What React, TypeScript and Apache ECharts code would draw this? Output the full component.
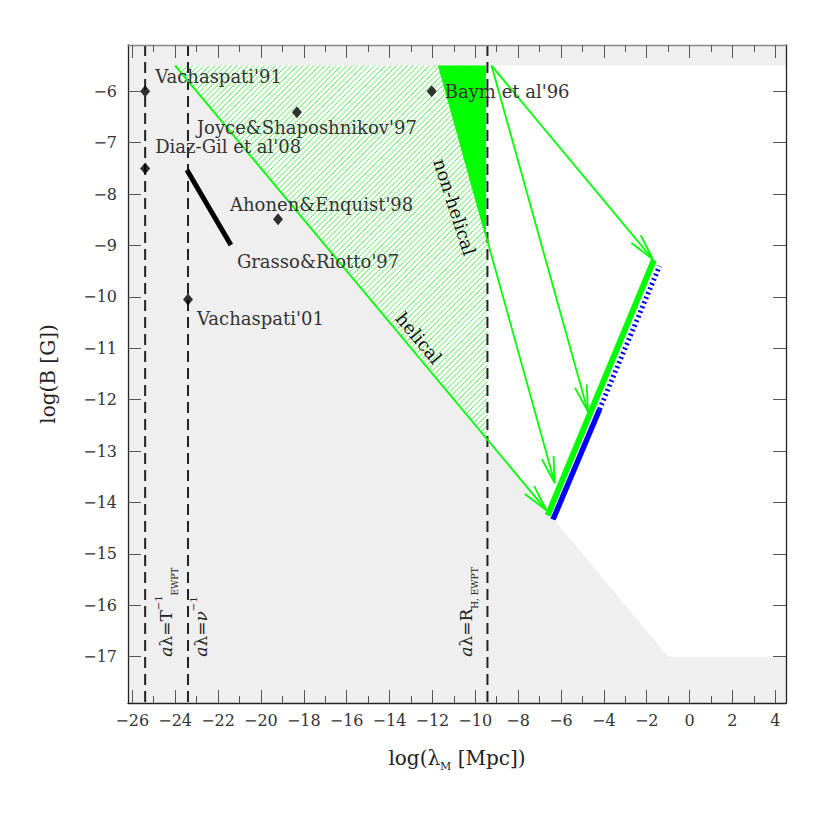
import React, { useEffect, useRef } from 'react';
import * as echarts from 'echarts';

// ---------- axes ----------
const X_MIN = -26.2;
const X_MAX = 4.5;
const Y_MIN = -17.9;
const Y_MAX = -5.1;
const xMajorTicks = [-26, -24, -22, -20, -18, -16, -14, -12, -10, -8, -6, -4, -2, 0, 2, 4];
const xMinorTicks = [-25, -23, -21, -19, -17, -15, -13, -11, -9, -7, -5, -3, -1, 1, 3];
const yTicks = [-6, -7, -8, -9, -10, -11, -12, -13, -14, -15, -16, -17];

// ---------- regions (log lambda, log B) ----------
const excludedRegion = [[-26.2, -5.1], [4.5, -5.1], [4.5, -5.5], [-24, -5.5], [-1, -17], [4.5, -17], [4.5, -17.9], [-26.2, -17.9]];
const helicalRegion = [[-24, -5.5], [-9.43, -5.5], [-9.43, -12.785]];
const nonHelicalRegion = [[-11.7, -5.5], [-9.5, -5.5], [-9.5, -8.8]];

// ---------- epoch lines ----------
const epochX = [-25.4, -23.4, -9.43];
const epochText = [
  '{i|a}{m|λ=T}{sup|−1}{sub|EWPT}',
  '{i|a}{m|λ=}{i|ν}{sup|−1}',
  '{i|a}{m|λ=R}{sub|H, EWPT}',
];

// ---------- evolution arrows ----------
const arrowStartX = [-24, -11.7, -9.24, -9.24];
const arrowStartY = [-5.5, -5.5, -5.5, -5.5];
const arrowEndX = [-6.68, -6.29, -1.71, -4.74];
const arrowEndY = [-14.15, -13.62, -9.27, -12.23];

// ---------- thick segments ----------
const greenToday = [-6.62, -14.25, -1.66, -9.28];
const blueSolid = [-6.37, -14.33, -4.2, -12.19];
const blueDotted = [-4.2, -12.19, -1.4, -9.4];
const grassoRiotto = [-23.45, -7.53, -21.4, -8.99];

// ---------- literature points ----------
const pointNames = ["Vachaspati'91", "Joyce&Shaposhnikov'97", "Baym et al'96", "Diaz-Gil et al'08", "Ahonen&Enquist'98", "Vachaspati'01"];
const pointX = [-25.4, -18.32, -12.03, -25.4, -19.2, -23.4];
const pointY = [-6, -6.41, -6, -7.5, -8.49, -10.05];

// ---------- region labels ----------
const regionLabels = ['helical', 'non-helical'];
const regionLabelX = [-12.63, -10.96];
const regionLabelY = [-10.8, -8.25];

// ---------- styles ----------
const FONT = '"DejaVu Serif", serif';
const GREEN = '#00ff00';
const BLUE = '#0000ff';
const LABEL_SIZE = 18;
const pointLabelOffsets = [[10, -15], [-100, 15], [13, 0], [10, -22], [-48, -15], [9, 19]];
const grassoLabelOffset = [6, 17];
const epochLabelOffsets = [[21, 0], [13, 0], [-21, 0]];
const regionLabelRot = [-50, -72];

const minusFmt = (v: number) => (v < 0 ? '−' + Math.abs(v) : String(v));

function hatchLines(pts: number[][], step: number) {
  const sums = pts.map((p) => p[0] + p[1]);
  const cMin = Math.min(...sums);
  const cMax = Math.max(...sums);
  const out: number[][][] = [];
  for (let c = Math.ceil(cMin / step) * step; c <= cMax; c += step) {
    const hits: number[][] = [];
    for (let i = 0; i < pts.length; i++) {
      const P = pts[i];
      const Q = pts[(i + 1) % pts.length];
      const fp = P[0] + P[1] - c;
      const fq = Q[0] + Q[1] - c;
      if ((fp <= 0 && fq > 0) || (fp > 0 && fq <= 0)) {
        const t = fp / (fp - fq);
        hits.push([P[0] + t * (Q[0] - P[0]), P[1] + t * (Q[1] - P[1])]);
      }
    }
    if (hits.length >= 2) {
      hits.sort((a, b) => a[0] - b[0]);
      out.push([hits[0], hits[hits.length - 1]]);
    }
  }
  return out;
}

function polygonSeries(points: number[][], style: any, z: number, hatch?: any) {
  return {
    type: 'custom',
    coordinateSystem: 'cartesian2d',
    silent: true,
    z,
    clip: true,
    data: [points[0]],
    renderItem: (_p: any, api: any) => {
      const pts = points.map((p) => api.coord(p));
      const children: any[] = [];
      if (style) children.push({ type: 'polygon', shape: { points: pts }, style });
      if (hatch) {
        hatchLines(pts, hatch.step).forEach((seg) => {
          children.push({
            type: 'line',
            shape: { x1: seg[0][0], y1: seg[0][1], x2: seg[1][0], y2: seg[1][1] },
            style: { stroke: hatch.color, lineWidth: hatch.width },
          });
        });
      }
      return { type: 'group', children };
    },
  };
}

function buildOption() {
  const xBase = { type: 'value', min: X_MIN, max: X_MAX, splitLine: { show: false }, z: 20 };
  const yBase = { type: 'value', min: Y_MIN, max: Y_MAX, splitLine: { show: false }, z: 20 };
  const tickStyle = { color: '#555', width: 1 };

  const segData = [greenToday, blueSolid, blueDotted, grassoRiotto];
  const segStyles = [
    { stroke: GREEN, lineWidth: 6 },
    { stroke: BLUE, lineWidth: 5.5 },
    { stroke: BLUE, lineWidth: 5, lineDash: [2, 3] },
    { stroke: '#000', lineWidth: 5 },
  ];

  const arrowData = arrowStartX.map((x, i) => [x, arrowStartY[i], arrowEndX[i], arrowEndY[i]]);

  const textRich = {
    i: { fontSize: 17, fontFamily: FONT, fontStyle: 'italic', lineHeight: 26, color: '#222' },
    m: { fontSize: 17, fontFamily: FONT, lineHeight: 26, color: '#222' },
    sup: { fontSize: 10, fontFamily: FONT, verticalAlign: 'top', lineHeight: 26, color: '#222' },
    sub: { fontSize: 9, fontFamily: FONT, verticalAlign: 'bottom', lineHeight: 22, color: '#222' },
  };

  return {
    animation: false,
    backgroundColor: '#fff',
    grid: { left: 128, right: 44, top: 45, bottom: 127, containLabel: false },
    xAxis: [
      {
        ...xBase,
        position: 'bottom',
        axisLine: { show: true, onZero: false, lineStyle: { color: '#222', width: 1.3 } },
        axisTick: { show: true, inside: true, length: 13, customValues: xMajorTicks, lineStyle: tickStyle },
        axisLabel: { show: true, customValues: xMajorTicks, formatter: minusFmt, margin: 9, fontFamily: FONT, fontSize: 16, color: '#333' },
        name: '{a|log(λ}{s|M}{a| [Mpc])}',
        nameLocation: 'middle',
        nameGap: 41,
        nameTextStyle: {
          rich: {
            a: { fontSize: 20, fontFamily: FONT, color: '#222', lineHeight: 28 },
            s: { fontSize: 11, fontFamily: FONT, color: '#222', verticalAlign: 'bottom', lineHeight: 22 },
          },
        },
      },
      {
        ...xBase,
        position: 'bottom',
        axisLine: { show: false, onZero: false },
        axisTick: { show: true, inside: true, length: 7, customValues: xMinorTicks, lineStyle: tickStyle },
        axisLabel: { show: false, customValues: xMinorTicks },
      },
      {
        ...xBase,
        position: 'top',
        axisLine: { show: true, onZero: false, lineStyle: { color: '#888', width: 1.3 } },
        axisTick: { show: true, inside: true, length: 13, customValues: xMajorTicks, lineStyle: tickStyle },
        axisLabel: { show: false, customValues: xMajorTicks },
      },
      {
        ...xBase,
        position: 'top',
        axisLine: { show: false, onZero: false },
        axisTick: { show: true, inside: true, length: 7, customValues: xMinorTicks, lineStyle: tickStyle },
        axisLabel: { show: false, customValues: xMinorTicks },
      },
    ],
    yAxis: [
      {
        ...yBase,
        position: 'left',
        axisLine: { show: true, onZero: false, lineStyle: { color: '#222', width: 1.3 } },
        axisTick: { show: true, inside: true, length: 13, customValues: yTicks, lineStyle: tickStyle },
        axisLabel: { show: true, customValues: yTicks, formatter: minusFmt, margin: 11, fontFamily: FONT, fontSize: 16, color: '#333' },
        name: 'log(B [G])',
        nameLocation: 'middle',
        nameGap: 70,
        nameTextStyle: { fontSize: 20, fontFamily: FONT, color: '#222' },
      },
      {
        ...yBase,
        position: 'right',
        axisLine: { show: true, onZero: false, lineStyle: { color: '#222', width: 1.3 } },
        axisTick: { show: true, inside: true, length: 13, customValues: yTicks, lineStyle: tickStyle },
        axisLabel: { show: false, customValues: yTicks },
      },
    ],
    series: [
      polygonSeries(excludedRegion, { fill: '#efefef' }, 1),
      polygonSeries(helicalRegion, { fill: '#ffffff' }, 2, { step: 5.5, color: '#33ee33', width: 0.8 }),
      polygonSeries(nonHelicalRegion, { fill: GREEN }, 3),
      {
        type: 'custom',
        coordinateSystem: 'cartesian2d',
        silent: true,
        z: 4,
        data: epochX.map((x) => [x, Y_MIN]),
        renderItem: (params: any, api: any) => {
          const x = api.value(0);
          const top = api.coord([x, Y_MAX]);
          const bot = api.coord([x, Y_MIN]);
          const i = params.dataIndex;
          const off = epochLabelOffsets[i];
          const lab = api.coord([x, -17]);
          return {
            type: 'group',
            children: [
              {
                type: 'line',
                shape: { x1: top[0], y1: top[1], x2: bot[0], y2: bot[1] },
                style: { stroke: '#222', lineWidth: 2, lineDash: [11, 6] },
              },
              {
                type: 'text',
                x: lab[0] + off[0],
                y: lab[1] + off[1],
                rotation: Math.PI / 2,
                style: { text: epochText[i], align: 'left', verticalAlign: 'middle', rich: textRich, fill: '#222' },
              },
            ],
          };
        },
      },
      {
        type: 'custom',
        coordinateSystem: 'cartesian2d',
        silent: true,
        z: 5,
        data: arrowData,
        encode: { x: [0, 2], y: [1, 3] },
        renderItem: (_params: any, api: any) => {
          const s = api.coord([api.value(0), api.value(1)]);
          const e = api.coord([api.value(2), api.value(3)]);
          const dx = s[0] - e[0];
          const dy = s[1] - e[1];
          const len = Math.hypot(dx, dy);
          const ux = dx / len;
          const uy = dy / len;
          const L = 27;
          const th = (13 * Math.PI) / 180;
          const rot = (a: number) => [e[0] + L * (ux * Math.cos(a) - uy * Math.sin(a)), e[1] + L * (ux * Math.sin(a) + uy * Math.cos(a))];
          const a1 = rot(th);
          const a2 = rot(-th);
          return {
            type: 'group',
            children: [
              { type: 'line', shape: { x1: s[0], y1: s[1], x2: e[0], y2: e[1] }, style: { stroke: GREEN, lineWidth: 1.8 } },
              { type: 'polyline', shape: { points: [a1, e, a2] }, style: { stroke: GREEN, lineWidth: 1.8, fill: 'none' } },
            ],
          };
        },
      },
      {
        type: 'custom',
        coordinateSystem: 'cartesian2d',
        silent: true,
        z: 6,
        data: segData,
        encode: { x: [0, 2], y: [1, 3] },
        renderItem: (params: any, api: any) => {
          const s = api.coord([api.value(0), api.value(1)]);
          const e = api.coord([api.value(2), api.value(3)]);
          return { type: 'line', shape: { x1: s[0], y1: s[1], x2: e[0], y2: e[1] }, style: segStyles[params.dataIndex] };
        },
      },
      {
        type: 'scatter',
        z: 7,
        silent: true,
        symbol: 'diamond',
        symbolSize: [10, 12],
        itemStyle: { color: '#000' },
        data: pointX.map((x, i) => [x, pointY[i]]),
      },
      {
        type: 'custom',
        coordinateSystem: 'cartesian2d',
        silent: true,
        z: 8,
        data: pointX.map((x, i) => [x, pointY[i]]),
        renderItem: (params: any, api: any) => {
          const i = params.dataIndex;
          const p = api.coord([api.value(0), api.value(1)]);
          const off = pointLabelOffsets[i];
          return {
            type: 'text',
            x: p[0] + off[0],
            y: p[1] + off[1],
            style: { text: pointNames[i], fill: '#333', fontSize: LABEL_SIZE, fontFamily: FONT, align: 'left', verticalAlign: 'middle' },
          };
        },
      },
      {
        type: 'custom',
        coordinateSystem: 'cartesian2d',
        silent: true,
        z: 8,
        data: [[grassoRiotto[2], grassoRiotto[3]]],
        renderItem: (_params: any, api: any) => {
          const p = api.coord([api.value(0), api.value(1)]);
          return {
            type: 'text',
            x: p[0] + grassoLabelOffset[0],
            y: p[1] + grassoLabelOffset[1],
            style: { text: "Grasso&Riotto'97", fill: '#333', fontSize: LABEL_SIZE, fontFamily: FONT, align: 'left', verticalAlign: 'middle' },
          };
        },
      },
      {
        type: 'custom',
        coordinateSystem: 'cartesian2d',
        silent: true,
        z: 8,
        data: regionLabelX.map((x, i) => [x, regionLabelY[i]]),
        renderItem: (params: any, api: any) => {
          const i = params.dataIndex;
          const p = api.coord([api.value(0), api.value(1)]);
          return {
            type: 'text',
            x: p[0],
            y: p[1],
            rotation: (regionLabelRot[i] * Math.PI) / 180,
            style: { text: regionLabels[i], fill: '#111', fontSize: 18, fontFamily: FONT, align: 'center', verticalAlign: 'middle' },
          };
        },
      },
    ],
  };
}

export default function App() {
  const ref = useRef<HTMLDivElement>(null);
  useEffect(() => {
    if (!ref.current) return;
    const chart = echarts.init(ref.current, null, { renderer: 'svg' });
    chart.setOption(buildOption() as any);
    return () => chart.dispose();
  }, []);
  return <div ref={ref} style={{ position: 'fixed', left: 0, top: 0, width: 830, height: 830, background: '#fff' }} />;
}
